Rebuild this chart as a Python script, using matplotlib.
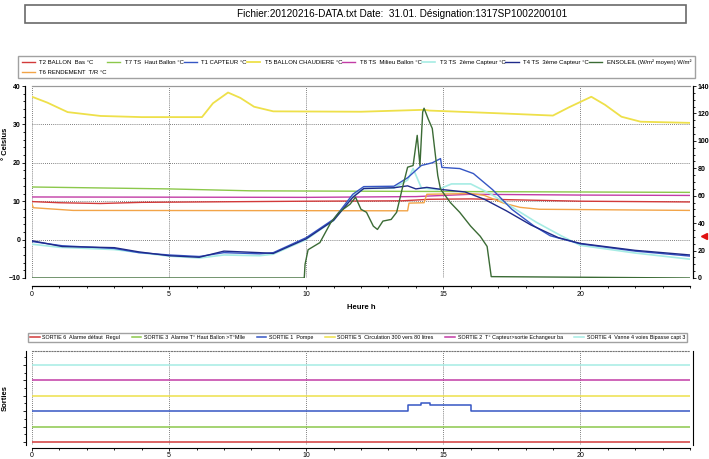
"""
Relevé capteurs solaires - 31.01 (températures, ensoleillement et sorties)
"""

import matplotlib
matplotlib.use("Agg")
import matplotlib.pyplot as plt
from matplotlib.lines import Line2D
from matplotlib.patches import Rectangle
from matplotlib.ticker import MultipleLocator

plt.rcParams['font.family'] = ['Liberation Sans Narrow', 'Liberation Sans', 'DejaVu Sans']

W, H = 709, 459

t_t5 = [0, 0.55, 1.3, 2.5, 4, 6.2, 6.6, 7.15, 7.6, 8.1, 8.8, 12, 14.3, 14.5, 17, 19.0, 19.6,
        20.4, 20.9, 21.5, 22.2, 24]
t5_chaudiere = [37.2, 35.7, 33.2, 32.2, 31.9, 31.9, 35.5, 38.3, 36.9, 34.6, 33.4, 33.3, 33.8, 33.6,
                32.9, 32.3, 34.5, 37.2, 35.1, 32.0, 30.7, 30.4]

t_t7 = [0, 5, 8, 16, 24]
t7_haut = [13.7, 13.2, 12.7, 12.5, 12.3]

t_t8 = [0, 10, 14, 16, 20, 24]
t8_milieu = [11.1, 11.0, 11.2, 11.8, 11.6, 11.5]

t_t2 = [0, 1, 2.5, 4, 8, 10, 13.5, 14.5, 16, 18, 20, 24]
t2_bas = [9.9, 9.6, 9.4, 9.7, 9.9, 10.0, 10.1, 10.5, 10.6, 10.3, 10.0, 9.8]

t_t6 = [0, 0.05, 1.5, 13.7, 13.75, 14.3, 14.4, 16.0, 16.5, 17.2, 17.8, 18.5, 24]
t6_rendement = [9.2, 8.3, 7.6, 7.5, 9.5, 9.6, 11.8, 12.0, 11.5, 9.5, 8.4, 7.9, 7.6]

t_t1 = [0, 1.1, 3, 3.9, 5, 6.1, 7.0, 8.3, 8.8, 10, 11, 11.7, 12.1, 13.2, 13.7, 14.2, 14.6,
        14.9, 14.95, 15.6, 16.1, 16.8, 17.5, 18.3, 18.9, 20, 22, 24]
t1_capteur = [-0.5, -1.6, -2.3, -3.4, -4.0, -4.4, -3.4, -3.7, -3.4, 0.5, 5.3, 11.8, 13.8, 13.9,
              16.1, 19.3, 20.0, 21.1, 18.8, 18.5, 17.2, 13.0, 7.9, 3.6, 1.0, -1.1, -3.0, -4.3]

t_t4 = [0, 1.1, 3, 3.9, 5, 6.1, 7.0, 8.3, 8.8, 10, 11, 11.7, 12.1, 13.2, 13.7, 14.0, 14.4,
        15.0, 15.8, 16.5, 17.3, 18.2, 19.2, 20, 22, 24]
t4_capteur3 = [-0.3, -1.8, -2.1, -3.2, -4.2, -4.6, -3.0, -3.4, -3.6, 0.2, 5.0, 11.0, 13.3, 13.5,
               14.0, 13.2, 13.6, 13.0, 12.4, 10.5, 7.5, 3.8, 0.5, -1.0, -2.8, -4.0]

t_t3 = [0, 1, 3, 5, 6.1, 7, 8.3, 8.8, 10, 11, 11.7, 12.1, 13.2, 13.7, 13.9, 14.2, 14.8, 15.3,
        16.0, 16.7, 17.5, 18.4, 19.3, 20, 22, 24]
t3_capteur2 = [-1.2, -2.0, -2.6, -4.3, -4.8, -4.0, -4.2, -3.8, 0.0, 5.0, 11.3, 13.3, 13.4, 15.5,
               18.5, 13.5, 13.0, 14.5, 14.5, 12.0, 8.5, 4.5, 1.0, -1.5, -3.5, -5.1]

t_sol = [0, 9.93, 9.96, 10.07, 10.5, 10.9, 11.2, 11.6, 11.8, 12.0, 12.2, 12.45, 12.6, 12.8, 13.1,
         13.3, 13.5, 13.7, 13.9, 14.05, 14.15, 14.25, 14.3, 14.45, 14.6, 14.8, 14.9, 15.26, 15.6,
         16.0, 16.35, 16.6, 16.75, 24]
ensoleil = [0, 0, 10, 20.6, 25.8, 40.5, 47.9, 53.8, 58.9, 50.1, 47.9, 37.8, 35.4, 41.5, 42.7,
            47.9, 64.8, 80.8, 82, 104, 82, 121, 123.8, 116, 109, 74.7, 64.8, 55, 47.9, 37.8,
            30.4, 23, 1, 0]

# sorties (niveau de base + état)
t_sortie = [0, 24]
t_pompe = [0, 13.7, 13.7, 14.2, 14.2, 14.5, 14.5, 16.0, 16.0, 24]
pompe = [2, 2, 2.4, 2.4, 2.5, 2.5, 2.4, 2.4, 2, 2]
sorties_fixes = {
    'SORTIE 6  Alarme défaut  Regul': 0,
    'SORTIE 3  Alarme T° Haut Ballon >T°Mlle': 1,
    'SORTIE 5  Circulation 300 vers 80 litres': 3,
    'SORTIE 2  T° Capteur>sortie Echangeur ba': 4,
    'SORTIE 4  Vanne 4 voies Bipasse capt 3': 5,
}

# couleurs
c_rouge, c_vert, c_bleu, c_jaune = '#d23a3a', '#8cc84b', '#3556c4', '#eee04a'
c_magenta, c_cyan, c_marine, c_vfonce, c_orange = '#c23ca6', '#a6ece4', '#1f2a8a', '#3b6b35', '#f2a448'

fig = plt.figure(figsize=(W / 100, H / 100), dpi=100)


def fx(px):
    return px / W


def fy(py):
    return 1 - py / H


# cadre du titre
fig.add_artist(Rectangle((fx(25), fy(23)), fx(661), 18 / H, transform=fig.transFigure,
                         fill=False, edgecolor='#6a6a6a', lw=1.2))
fig.text(fx(402), fy(14), "Fichier:20120216-DATA.txt Date:  31.01. Désignation:1317SP1002200101",
         ha='center', va='center', fontsize=7.2)

# --- graphique des températures ---
ax = fig.add_axes([fx(32), fy(278), fx(658), (278 - 86) / H])
ax2 = ax.twinx()

lw = 1.0
h_t2, = ax.plot(t_t2, t2_bas, color=c_rouge, lw=lw, label='T2 BALLON  Bas °C')
h_t7, = ax.plot(t_t7, t7_haut, color=c_vert, lw=lw, label='T7 TS  Haut Ballon °C')
h_t8, = ax.plot(t_t8, t8_milieu, color=c_magenta, lw=lw, label='T8 TS  Milieu Ballon °C')
h_t6, = ax.plot(t_t6, t6_rendement, color=c_orange, lw=lw, label='T6 RENDEMENT  T/R °C')
h_t5, = ax.plot(t_t5, t5_chaudiere, color=c_jaune, lw=1.3, label='T5 BALLON CHAUDIERE °C')
h_t3, = ax.plot(t_t3, t3_capteur2, color=c_cyan, lw=1.2, label='T3 TS  2ème Capteur °C')
h_t1, = ax.plot(t_t1, t1_capteur, color=c_bleu, lw=lw, label='T1 CAPTEUR °C')
h_t4, = ax.plot(t_t4, t4_capteur3, color=c_marine, lw=lw, label='T4 TS  3ème Capteur °C')
h_sol, = ax2.plot(t_sol, ensoleil, color=c_vfonce, lw=lw, label='ENSOLEIL (W/m² moyen) W/m²')

ax.set_xlim(0, 24)
ax.set_ylim(-10, 40)
ax2.set_ylim(0, 140)
ax.set_xticks([0, 5, 10, 15, 20])
ax.xaxis.set_minor_locator(MultipleLocator(1))
ax.yaxis.set_major_locator(MultipleLocator(10))
ax.yaxis.set_minor_locator(MultipleLocator(2))
ax2.yaxis.set_major_locator(MultipleLocator(20))
ax2.yaxis.set_minor_locator(MultipleLocator(5))
ax.grid(True, which='major', linestyle=(0, (1, 1.5)), color='#555555', lw=0.6)
ax.axvline(24, linestyle=(0, (1, 1.5)), color='#555555', lw=0.6)

for a in (ax, ax2):
    a.spines['top'].set_color('#999999')
    a.spines['bottom'].set_position(('outward', 6))
    a.spines['left'].set_position(('outward', 5))
    a.spines['right'].set_position(('outward', 2))
    a.tick_params(which='both', length=2, width=0.6, labelsize=5, pad=1.5)
    a.tick_params(which='minor', length=1.2)
for lab in ax.get_yticklabels() + ax2.get_yticklabels():
    lab.set_fontweight('bold')
ax.set_xlabel('Heure h', fontsize=5.5, fontweight='bold', labelpad=4)
ax.set_ylabel('° Celsius', fontsize=5.5, fontweight='bold')
ax.yaxis.set_label_coords((9 - 32) / 658, 0.7)

handles = [h_t2, h_t6, h_t7, h_t1, h_t5, h_t8, h_t3, h_t4, h_sol]
fig.legend(handles=handles, loc='upper left',
           bbox_to_anchor=(fx(15), fy(80), fx(683), 27 / H), mode='expand', ncol=8,
           fontsize=4.3, frameon=True, fancybox=False, edgecolor='#8a8a8a',
           handlelength=2.2, borderpad=0.6, labelspacing=0.7, columnspacing=0.8)

# repère rouge en marge
fig.add_artist(Line2D([fx(704)], [fy(236)], marker='<', markersize=5, color='#e01010',
                      transform=fig.transFigure))

# --- graphique des sorties ---
bx = fig.add_axes([fx(32), fy(445), fx(658), (445 - 351) / H])
sortie_couleurs = [c_rouge, c_vert, c_jaune, c_magenta, c_cyan]
h_sorties = []
for (nom, niveau), col in zip(sorties_fixes.items(), sortie_couleurs):
    h, = bx.plot(t_sortie, [niveau, niveau], color=col, lw=1.1, label=nom)
    h_sorties.append(h)
h_pompe, = bx.plot(t_pompe, pompe, color=c_bleu, lw=1.1, label='SORTIE 1  Pompe')
h_sorties.insert(2, h_pompe)

bx.set_xlim(0, 24)
bx.set_ylim(-0.2, 5.9)
bx.set_xticks([0, 5, 10, 15, 20])
bx.xaxis.set_minor_locator(MultipleLocator(1))
bx.yaxis.set_major_locator(MultipleLocator(1))
bx.yaxis.set_minor_locator(MultipleLocator(0.5))
bx.set_yticklabels([])
bx.grid(True, which='major', axis='x', linestyle=(0, (1, 1.5)), color='#555555', lw=0.6)
bx.spines['top'].set_linestyle((0, (1, 1.5)))
bx.spines['top'].set_color('#777777')
bx.spines['right'].set_position(('outward', 2))
bx.spines['bottom'].set_position(('outward', 2))
bx.spines['left'].set_position(('outward', 4))
bx.tick_params(which='both', length=2, width=0.6, labelsize=5, pad=1)
bx.tick_params(which='minor', length=1.2)
bx.set_ylabel('Sorties', fontsize=5.5, fontweight='bold')
bx.yaxis.set_label_coords((9 - 32) / 658, 0.5)

fig.legend(handles=h_sorties, loc='upper left',
           bbox_to_anchor=(fx(25), fy(345), fx(665), 15 / H), mode='expand', ncol=6,
           fontsize=3.9, frameon=True, fancybox=False, edgecolor='#8a8a8a',
           handlelength=1.8, handletextpad=0.5, borderpad=0.4, columnspacing=0.6)

fig.savefig('out.png', dpi=100)
